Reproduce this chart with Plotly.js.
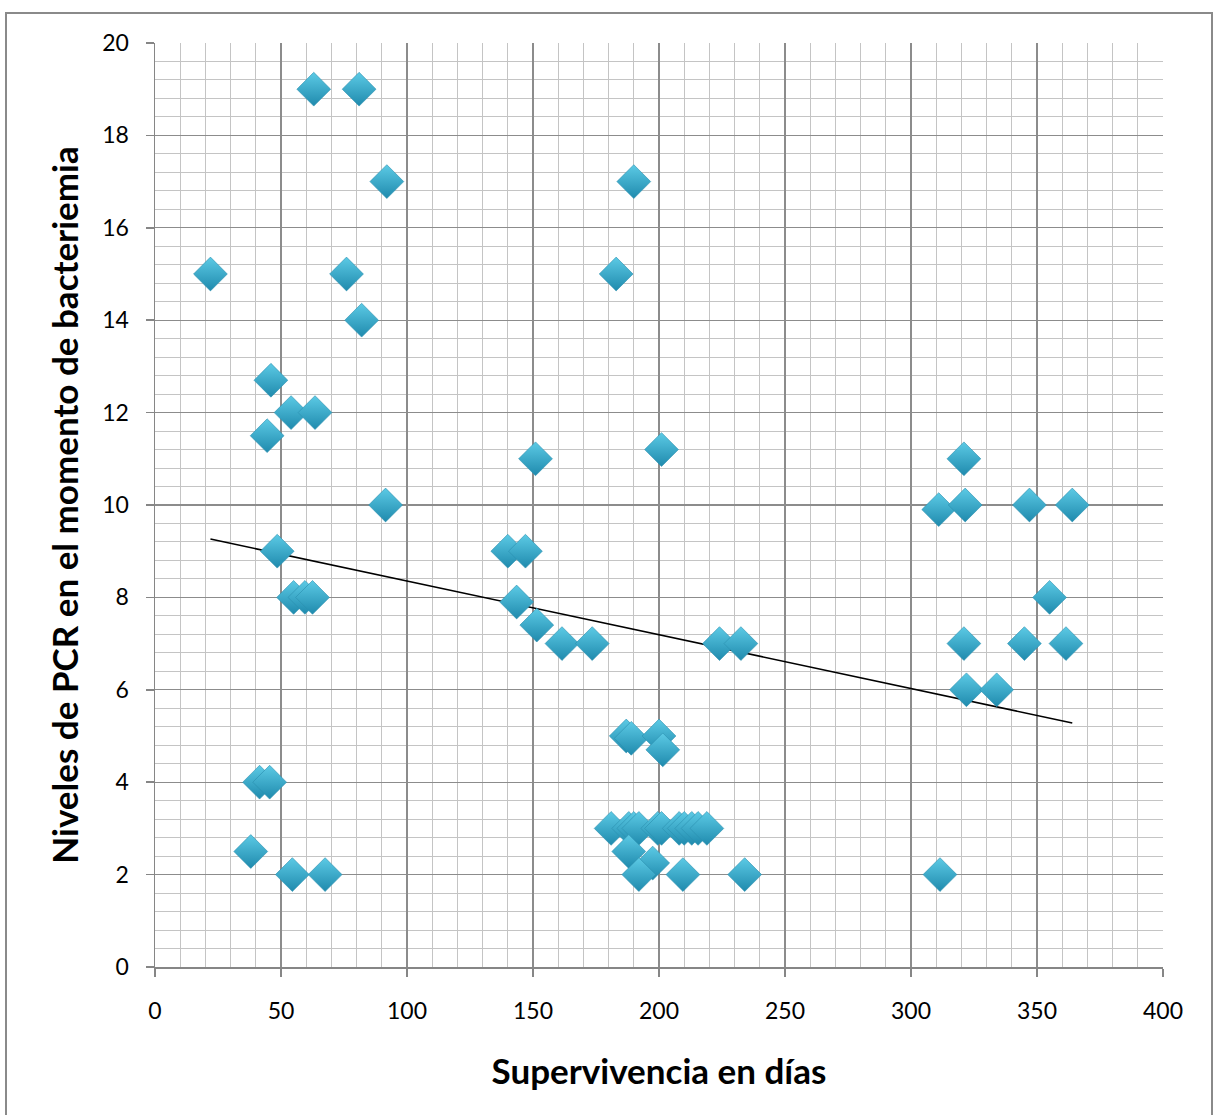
<!DOCTYPE html>
<html>
<head>
<meta charset="utf-8">
<script src="https://cdn.plot.ly/plotly-3.0.1.min.js"></script>
<style>
  html, body { margin: 0; padding: 0; background: #fff; }
  #wrap { position: relative; width: 1213px; height: 1115px; overflow: hidden; }
  #chart { position: absolute; left: 0; top: 0; width: 1213px; height: 1115px; }
  #frame { position: absolute; left: 5px; top: 12px; width: 1204px; height: 1120px;
           border: 2px solid #8a8a8a; pointer-events: none; }
</style>
</head>
<body>
<div id="wrap">
  <div id="chart"></div>
  <div id="frame"></div>
</div>
<script>
// Survival in days (x) and CRP level at bacteremia (y)
const survivalDays = [
  22, 63, 81, 92, 76, 82, 46, 54, 63.5, 44.5, 91.5, 48.5, 55, 59.5, 62.5, 41.5, 45.5, 38, 54.5, 67.5,
  140, 147, 143.5, 151.5, 161.5, 173.5, 151, 190, 183, 201, 224, 232.5,
  187, 189, 200, 201.5,
  181, 188, 190, 192, 199.5, 201, 208, 210, 213, 215.5, 219,
  188, 197.5, 192, 209.5, 234,
  311, 321, 321.5, 347, 364, 355, 321, 345, 361.5, 322, 334, 311.5
];
const pcrLevels = [
  15, 19, 19, 17, 15, 14, 12.7, 12, 12, 11.5, 10, 9, 8, 8, 8, 4, 4, 2.5, 2, 2,
  9, 9, 7.9, 7.4, 7, 7, 11, 17, 15, 11.2, 7, 7,
  5, 4.95, 5, 4.7,
  3, 3, 3, 3, 3, 3, 3, 3, 3, 3, 3,
  2.5, 2.25, 2, 2, 2,
  9.9, 11, 10, 10, 10, 8, 7, 7, 7, 6, 6, 2
];
const xTitle = "Supervivencia en días";
const yTitle = "Niveles de PCR en el momento de bacteriemia";

// Linear least-squares trendline (as Excel's linear trendline)
function linearFit(xs, ys) {
  const n = xs.length;
  let sx = 0, sy = 0, sxx = 0, sxy = 0;
  for (let i = 0; i < n; i++) { sx += xs[i]; sy += ys[i]; sxx += xs[i]*xs[i]; sxy += xs[i]*ys[i]; }
  const slope = (n*sxy - sx*sy) / (n*sxx - sx*sx);
  const intercept = (sy - slope*sx) / n;
  return {slope, intercept};
}
const fit = linearFit(survivalDays, pcrLevels);
const xMin = Math.min(...survivalDays), xMax = Math.max(...survivalDays);
const trendX = [xMin, xMax];
const trendY = trendX.map(x => fit.intercept + fit.slope * x);

const points = {
  type: 'scatter', mode: 'markers',
  x: survivalDays, y: pcrLevels,
  marker: {
    symbol: 'diamond', size: 26,
    color: '#5ccae5',
    gradient: {type: 'vertical', color: '#1f8aad'},
    line: {width: 0.6, color: '#2a8fae'}
  },
  hoverinfo: 'x+y', showlegend: false
};
const trend = {
  type: 'scatter', mode: 'lines',
  x: trendX, y: trendY,
  line: {color: '#000000', width: 1.6},
  hoverinfo: 'skip', showlegend: false
};

const axisCommon = {
  showline: true, linecolor: '#868686', linewidth: 1.5, mirror: false,
  showgrid: true, gridcolor: '#8c8c8c', gridwidth: 1.2,
  zeroline: false,
  ticks: 'outside', ticklen: 8, tickcolor: '#868686', tickwidth: 1.5,
  tickfont: {family: 'Lato, Calibri, sans-serif', size: 23, color: '#000'}
};

const layout = {
  width: 1213, height: 1115,
  margin: {l: 155, r: 50, t: 43, b: 148},
  paper_bgcolor: 'rgba(0,0,0,0)', plot_bgcolor: '#ffffff',
  showlegend: false,
  xaxis: Object.assign({}, axisCommon, {
    range: [0, 400], dtick: 50, tick0: 0,
    minor: {dtick: 10, showgrid: true, gridcolor: '#c4c4c4', gridwidth: 1, ticks: ''},
    ticklabelstandoff: 15,
    title: {text: xTitle, font: {family: 'Lato, Calibri, sans-serif', size: 35, color: '#000', weight: 'bold'}, standoff: 36}
  }),
  yaxis: Object.assign({}, axisCommon, {
    range: [0, 20], dtick: 2, tick0: 0,
    minor: {dtick: 0.4, showgrid: true, gridcolor: '#c4c4c4', gridwidth: 1, ticks: ''},
    ticklabelstandoff: 12,
    title: {text: yTitle, font: {family: 'Lato, Calibri, sans-serif', size: 35, color: '#000', weight: 'bold'}, standoff: 13}
  })
};

Plotly.newPlot('chart', [trend, points], layout, {displayModeBar: false, staticPlot: true});
</script>
</body>
</html>
